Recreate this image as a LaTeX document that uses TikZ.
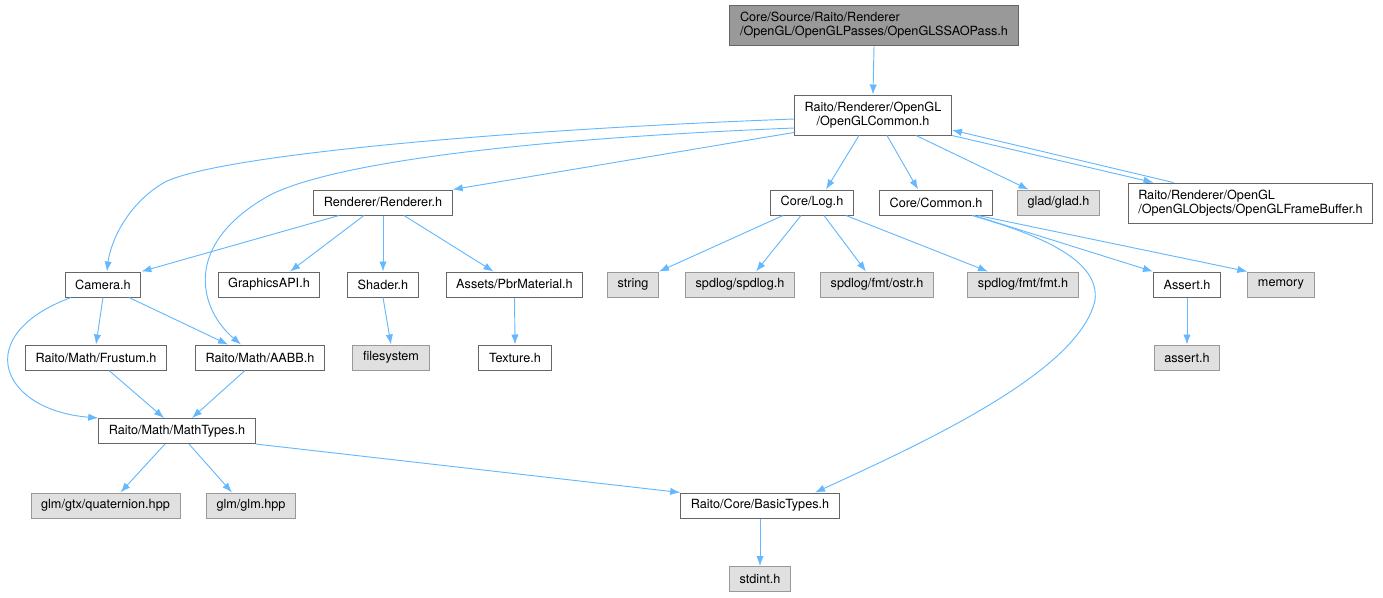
\documentclass[tikz,border=0pt]{standalone}
\usepackage{fontspec}
\setmainfont{TeX Gyre Heros}
\usetikzlibrary{arrows.meta,calc}
\definecolor{edgeblue}{HTML}{63B8FF}
\definecolor{boxgray}{HTML}{666666}
\definecolor{sysgray}{HTML}{999999}
\definecolor{sysfill}{HTML}{E0E0E0}
\tikzset{
  file/.style={draw=boxgray, fill=white, line width=0.7pt, inner xsep=7.6pt, inner ysep=2pt,
    minimum height=18.8pt, font=\fontsize{9.5}{10.5}\selectfont, align=center},
  twoline/.style={minimum height=30pt},
  sysfile/.style={file, draw=sysgray, fill=sysfill},
  rootfile/.style={file, twoline, fill=sysgray, align=left},
  dep/.style={draw=edgeblue, line width=0.7pt, -{Latex[length=7.5pt,width=5.5pt]}},
}
\begin{document}
\begin{tikzpicture}[x=0.75pt, y=-0.75pt]
  \useasboundingbox (0,0) rectangle (1383,597);

  \node[rootfile] (root) at (874,25.5) {Core/Source/Raito/Renderer\\/OpenGL/OpenGLPasses/OpenGLSSAOPass.h};
  \node[file, twoline] (ogl) at (873,115) {Raito/Renderer/OpenGL\\/OpenGLCommon.h};

  \node[file] (rend) at (383,202.5) {Renderer/Renderer.h};
  \node[file] (log) at (812,202.5) {Core/Log.h};
  \node[file] (common) at (936,202.5) {Core/Common.h};
  \node[sysfile] (glad) at (1058.5,202.5) {glad/glad.h};
  \node[file, twoline, align=left] (fbuf) at (1250.5,203) {Raito/Renderer/OpenGL\\/OpenGLObjects/OpenGLFrameBuffer.h};

  \node[file] (cam) at (103,284.5) {Camera.h};
  \node[file] (gapi) at (269,284.5) {GraphicsAPI.h};
  \node[file] (shader) at (383,284.5) {Shader.h};
  \node[file] (pbr) at (514.5,284.5) {Assets/PbrMaterial.h};
  \node[sysfile] (string) at (633,284.5) {string};
  \node[sysfile] (spdlog) at (740,284.5) {spdlog/spdlog.h};
  \node[sysfile] (ostr) at (877,284.5) {spdlog/fmt/ostr.h};
  \node[sysfile] (fmt) at (1023,284.5) {spdlog/fmt/fmt.h};
  \node[file] (assertb) at (1187,284.5) {Assert.h};
  \node[sysfile] (memory) at (1281,284.5) {memory};

  \node[file] (frustum) at (96,357.5) {Raito/Math/Frustum.h};
  \node[file] (aabb) at (260,357.5) {Raito/Math/AABB.h};
  \node[sysfile] (fsys) at (391,357.5) {filesystem};
  \node[file] (texture) at (515,357.5) {Texture.h};
  \node[sysfile] (asserth) at (1187,357.5) {assert.h};

  \node[file] (math) at (177,431) {Raito/Math/MathTypes.h};

  \node[sysfile] (quat) at (105.5,505.5) {glm/gtx/quaternion.hpp};
  \node[sysfile] (glm) at (251,505.5) {glm/glm.hpp};
  \node[file] (basic) at (760,505.5) {Raito/Core/BasicTypes.h};
  \node[sysfile] (stdint) at (760,579) {stdint.h};

  \draw[dep] (root.south) -- (ogl.north);
  \draw[dep] ($(ogl.west)+(0,4)$) .. controls (500,130) and (220,155) .. (165,182)
    .. controls (125,205) and (110,245) .. ($(cam.north)+(4,0)$);
  \draw[dep] ($(ogl.west)+(0,13)$) .. controls (500,140) and (330,165) .. (270,195)
    .. controls (180,245) and (200,310) .. ($(aabb.north)+(-19,0)$);
  \draw[dep] ($(ogl.south west)+(0,-3)$) -- (rend.north east);
  \draw[dep] ($(ogl.south)+(-14,0)$) -- ($(log.north)+(14,0)$);
  \draw[dep] ($(ogl.south)+(14,0)$) -- ($(common.north)+(-18,0)$);
  \draw[dep] ($(ogl.south)+(43,0)$) -- ($(glad.north)+(-30,0)$);
  \draw[dep] (ogl.south east) -- ($(fbuf.north)+(-97,0)$);
  \draw[dep] ($(fbuf.north)+(-77,0)$) -- ($(ogl.east)+(0,15)$);

  \draw[dep] ($(rend.south)+(-44,0)$) -- (cam.north east);
  \draw[dep] ($(rend.south)+(-19,0)$) -- ($(gapi.north)+(21,0)$);
  \draw[dep] (rend.south) -- (shader.north);
  \draw[dep] ($(rend.south)+(21,0)$) -- ($(pbr.north)+(-21,0)$);

  \draw[dep] ($(log.south)+(-29,0)$) -- (string.north east);
  \draw[dep] ($(log.south)+(-11,0)$) -- ($(spdlog.north)+(16,0)$);
  \draw[dep] ($(log.south)+(12,0)$) -- ($(ostr.north)+(-11,0)$);
  \draw[dep] ($(log.south)+(34,0)$) -- ($(fmt.north)+(-35,0)$);

  \draw[dep] ($(common.south)+(36,0)$) .. controls (1040,235) and (1100,260) .. (1095,300)
    .. controls (1080,370) and (930,440) .. ($(basic.north)+(55,0)$);
  \draw[dep] ($(common.south)+(38,0)$) -- (assertb.north west);
  \draw[dep] ($(common.south)+(42,0)$) -- (memory.north west);

  \draw[dep] (cam.south) -- (frustum.north);
  \draw[dep] ($(cam.south)+(26,0)$) -- ($(aabb.north)+(-32,0)$);
  \draw[dep] ($(cam.south)+(-32,0)$) .. controls (-30,335) and (0,410) .. (math.north west);
  \draw[dep] (shader.south) -- (fsys.north);
  \draw[dep] (pbr.south) -- (texture.north);
  \draw[dep] (assertb.south) -- (asserth.north);

  \draw[dep] ($(frustum.south)+(13,0)$) -- ($(math.north)+(-13,0)$);
  \draw[dep] ($(aabb.south)+(-15,0)$) -- ($(math.north)+(15,0)$);

  \draw[dep] ($(math.south)+(-12,0)$) -- ($(quat.north)+(15,0)$);
  \draw[dep] ($(math.south)+(12,0)$) -- ($(glm.north)+(-19,0)$);
  \draw[dep] (math.south east) -- (basic.north west);
  \draw[dep] (basic.south) -- (stdint.north);
\end{tikzpicture}
\end{document}
